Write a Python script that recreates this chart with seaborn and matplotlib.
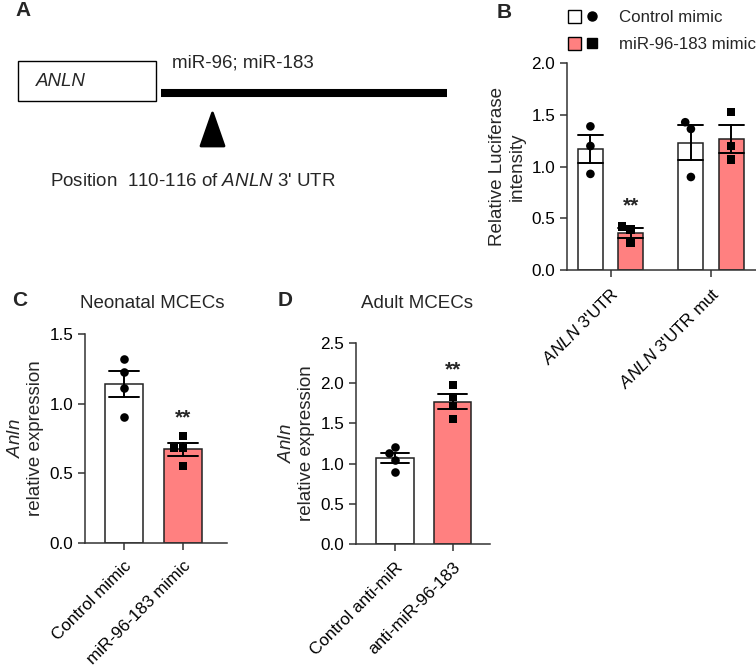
import pandas as pd
import seaborn as sns
import matplotlib.pyplot as plt
from matplotlib.patches import Rectangle, Polygon, Patch
from matplotlib.lines import Line2D
from matplotlib.legend_handler import HandlerTuple

sns.set_theme(style='ticks')
plt.rcParams['font.family'] = ['Liberation Sans', 'DejaVu Sans']
plt.rcParams['mathtext.fontset'] = 'custom'
plt.rcParams['mathtext.it'] = 'Liberation Sans:italic'
plt.rcParams['mathtext.rm'] = 'Liberation Sans'

RED = '#FF8080'

# panel B: luciferase assay
b_constructs = [r"$\it{ANLN}$ 3'UTR", r"$\it{ANLN}$ 3'UTR mut"]
b_groups = ['Control mimic', 'miR-96-183 mimic']
b_ctrl_utr = [1.39, 1.20, 0.93]
b_mir_utr = [0.42, 0.39, 0.26]
b_ctrl_mut = [1.43, 1.365, 0.90]
b_mir_mut = [1.53, 1.20, 1.07]
b_sig_y = 0.62

# panel C: neonatal MCECs
c_groups = ['Control mimic', 'miR-96-183 mimic']
c_ctrl = [1.32, 1.23, 1.11, 0.90]
c_mir = [0.77, 0.68, 0.68, 0.55]
c_sig_y = 0.90

# panel D: adult MCECs
d_groups = ['Control anti-miR', 'anti-miR-96-183']
d_ctrl = [1.21, 1.13, 1.05, 0.90]
d_anti = [1.98, 1.83, 1.72, 1.55]
d_sig_y = 2.16

TICK_FS = 12.3
LABEL_FS = 13.5
PT_SIZE = 6.2


def style_axis(ax, ymax, step):
    sns.despine(ax=ax)
    for s in ['left', 'bottom']:
        ax.spines[s].set_linewidth(1.1)
        ax.spines[s].set_color('#333333')
    ax.set_ylim(0, ymax)
    ticks = [i * step for i in range(int(round(ymax / step)) + 1)]
    ax.set_yticks(ticks)
    ax.set_yticklabels([f'{t:.1f}' for t in ticks], fontsize=TICK_FS)
    ax.tick_params(direction='out', length=5, width=1.1, color='#333333', labelcolor='black')
    ax.tick_params(axis='x', pad=6)
    ax.set_xlabel('')
    for lab in ax.get_xticklabels():
        lab.set_rotation(45)
        lab.set_ha('right')
        lab.set_va('top')
        lab.set_rotation_mode('anchor')
        lab.set_fontsize(TICK_FS)


def sig(ax, x, y):
    ax.text(x, y, '**', ha='center', va='center', fontsize=15, fontweight='bold')


fig = plt.figure(figsize=(7.56, 6.66), dpi=100)

# ---- panel B
df_b = pd.DataFrame({
    'construct': [b_constructs[0]] * 6 + [b_constructs[1]] * 6,
    'group': [b_groups[0]] * 3 + [b_groups[1]] * 3 + [b_groups[0]] * 3 + [b_groups[1]] * 3,
    'value': b_ctrl_utr + b_mir_utr + b_ctrl_mut + b_mir_mut,
})
ax_b = fig.add_axes([0.75, 0.5946, 0.25, 0.3103])
sns.barplot(data=df_b, x='construct', y='value', hue='group', order=b_constructs,
            hue_order=b_groups, palette=['white', RED], saturation=1, errorbar='se',
            capsize=0.5, err_kws={'linewidth': 1.4, 'color': 'black'}, gap=0.375,
            edgecolor='#222222', linewidth=1.1, legend=False, ax=ax_b)
for g, m in zip(b_groups, ['o', 's']):
    sns.swarmplot(data=df_b[df_b.group == g], x='construct', y='value', hue='group',
                  order=b_constructs, hue_order=b_groups, dodge=True,
                  palette={k: 'black' for k in b_groups}, marker=m, size=PT_SIZE,
                  legend=False, ax=ax_b)
sig(ax_b, 0.2, b_sig_y)
style_axis(ax_b, 2.0, 0.5)
ax_b.set_xlim(-0.433, 1.448)
ax_b.set_ylabel('Relative Luciferase\nintensity', fontsize=LABEL_FS)

handles = [(Patch(facecolor='white', edgecolor='black', linewidth=1),
            Line2D([], [], marker='o', color='black', linestyle='', markersize=6.5)),
           (Patch(facecolor=RED, edgecolor='black', linewidth=1),
            Line2D([], [], marker='s', color='black', linestyle='', markersize=6.5))]
fig.legend(handles, b_groups, loc='upper left', bbox_to_anchor=(568 / 756, 1 - 10 / 666),
           frameon=False, fontsize=12.2, handlelength=1.8, handleheight=0.8,
           handletextpad=1.2, labelspacing=0.68, borderpad=0, borderaxespad=0,
           handler_map={tuple: HandlerTuple(ndivide=None, pad=0.3)})

# ---- panel C
df_c = pd.DataFrame({'group': [c_groups[0]] * 4 + [c_groups[1]] * 4,
                     'value': c_ctrl + c_mir})
ax_c = fig.add_axes([0.1124, 0.1851, 0.1878, 0.3134])
sns.barplot(data=df_c, x='group', y='value', hue='group', order=c_groups,
            palette=['white', RED], saturation=1, errorbar='se', width=0.65,
            capsize=0.5, err_kws={'linewidth': 1.4, 'color': 'black'},
            edgecolor='#222222', linewidth=1.1, legend=False, ax=ax_c)
for g, m in zip(c_groups, ['o', 's']):
    sns.swarmplot(data=df_c[df_c.group == g], x='group', y='value', order=c_groups,
                  color='black', marker=m, size=PT_SIZE, ax=ax_c)
sig(ax_c, 1, c_sig_y)
style_axis(ax_c, 1.5, 0.5)
ax_c.set_xlim(-0.66, 1.745)
ax_c.set_ylabel(r'$\it{Anln}$' + '\nrelative expression', fontsize=LABEL_FS)

# ---- panel D
df_d = pd.DataFrame({'group': [d_groups[0]] * 4 + [d_groups[1]] * 4,
                     'value': d_ctrl + d_anti})
ax_d = fig.add_axes([0.4709, 0.1827, 0.1772, 0.3027])
sns.barplot(data=df_d, x='group', y='value', hue='group', order=d_groups,
            palette=['white', RED], saturation=1, errorbar='se', width=0.65,
            capsize=0.5, err_kws={'linewidth': 1.4, 'color': 'black'},
            edgecolor='#222222', linewidth=1.1, legend=False, ax=ax_d)
for g, m in zip(d_groups, ['o', 's']):
    sns.swarmplot(data=df_d[df_d.group == g], x='group', y='value', order=d_groups,
                  color='black', marker=m, size=PT_SIZE, ax=ax_d)
sig(ax_d, 1, d_sig_y)
style_axis(ax_d, 2.5, 0.5)
ax_d.set_xlim(-0.676, 1.646)
ax_d.set_ylabel(r'$\it{Anln}$' + '\nrelative expression', fontsize=LABEL_FS)

# ---- panel A schematic (pixel coordinates)
ax_a = fig.add_axes([0, 0, 1, 1], zorder=-1)
ax_a.set_xlim(0, 756)
ax_a.set_ylim(666, 0)
ax_a.axis('off')
ax_a.add_patch(Rectangle((18, 61), 138, 40, facecolor='white', edgecolor='black', linewidth=1))
ax_a.text(36, 81, 'ANLN', style='italic', va='center', fontsize=13.5)
ax_a.plot([161, 447], [93, 93], color='black', linewidth=5.8, solid_capstyle='butt')
ax_a.text(172, 63, 'miR-96; miR-183', va='center', fontsize=13.5)
ax_a.add_patch(Polygon([(201, 146), (224, 146), (212.5, 113)], closed=True,
                       facecolor='black', edgecolor='black', linewidth=2, joinstyle='round'))
ax_a.text(50, 182, r"Position  110-116 of $\it{ANLN}$ 3' UTR", va='center', fontsize=13.5)

# panel letters and titles
for letter, x, y in [('A', 15, 11), ('B', 497, 12), ('C', 12, 300), ('D', 278, 300)]:
    ax_a.text(x, y, letter, fontweight='bold', va='center', fontsize=15)
ax_a.text(152, 303, 'Neonatal MCECs', ha='center', va='center', fontsize=13.5)
ax_a.text(417, 303, 'Adult MCECs', ha='center', va='center', fontsize=13.5)

fig.savefig('out.png', dpi=100, facecolor='white')
